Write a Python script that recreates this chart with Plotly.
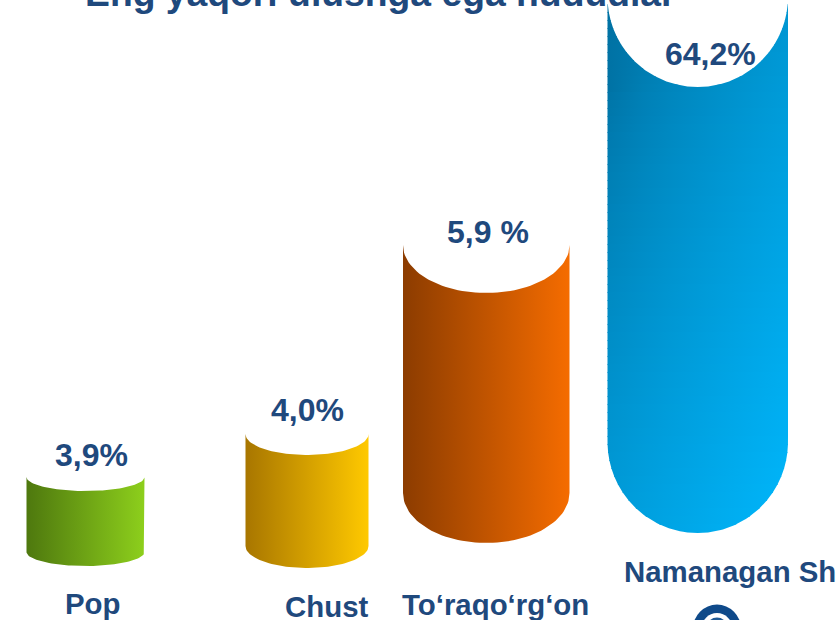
import numpy as np
import plotly.graph_objects as go

# ---- chart content ----
title_text = "Eng yaqori ulushga ega hududlar"
categories = ["Pop", "Chust", "To‘raqo‘rg‘on", "Namanagan Sh"]
shares = [3.9, 4.0, 5.9, 64.2]
share_labels = ["3,9%", "4,0%", "5,9 %", "64,2%"]
# pictogram heights as drawn (not proportional to the shares), in picture units
drawn_heights = [75, 112, 248, 445]

# ---- layout and style ----
BLUE = "#1F497D"
lefts = [26.5, 245.5, 403, 607.5]
rights = [144.5, 368.5, 569.5, 788]
bases = [552, 546, 493, 442]
top_ry = [14, 21, 48, 90]
base_ry = [14, 22, 50, 91]
grad_left = ["#4E780E", "#A87600", "#8C3C00", None]
grad_right = ["#8DCF1C", "#FFC900", "#F56C00", None]
value_xy = [(91, 455), (307, 410), (487.5, 232), (710, 54)]
cat_xy = [(93, 603), (326, 606), (495, 604), (729.5, 571)]


def half_ellipse(x0, x1, yc, ry, n=60, reverse=False):
    th = np.linspace(np.pi, 0, n)
    if reverse:
        th = th[::-1]
    cx, rx = (x0 + x1) / 2, (x1 - x0) / 2
    return cx + rx * np.cos(th), yc + ry * np.sin(th)


def outline(i):
    top = bases[i] - drawn_heights[i]
    xa, ya = half_ellipse(lefts[i], rights[i], top, top_ry[i])
    xb, yb = half_ellipse(lefts[i], rights[i], bases[i], base_ry[i], reverse=True)
    return np.r_[xa, xb, xa[0]], np.r_[ya, yb, ya[0]]


fig = go.Figure()

# three cylinders with plain left-to-right gradients
for i in range(3):
    xs, ys = outline(i)
    fig.add_trace(go.Scatter(
        x=xs, y=ys, mode="lines", line=dict(width=0), fill="toself",
        fillgradient=dict(type="horizontal", start=lefts[i], stop=rights[i],
                          colorscale=[[0, grad_left[i]], [1, grad_right[i]]]),
        hoverinfo="skip", showlegend=False))

# the tallest one has a diagonal gradient: stacked bands, each a horizontal gradient
C0 = np.array([0x00, 0x72, 0xA4])
C1 = np.array([0x00, 0xB6, 0xFB])


def diag(x, y):
    t = 0.5 * (x - lefts[3]) / (rights[3] - lefts[3]) + 0.5 * (y - 90) / 443
    t = np.clip(t, 0, 1) ** 0.72
    c = C0 + (C1 - C0) * t
    return "rgb(%d,%d,%d)" % tuple(c.round())


i = 3
top = bases[i] - drawn_heights[i]
yb_max = bases[i] + base_ry[i]
edges = np.arange(top, yb_max + 8, 8.0)
for y0, y1 in zip(edges[:-1], edges[1:]):
    ya = np.linspace(y0 - 1, y1, 16)
    cx, rx = (lefts[i] + rights[i]) / 2, (rights[i] - lefts[i]) / 2
    lo = np.sqrt(np.clip(1 - ((ya - top) / top_ry[i]) ** 2, 0, 1)) * rx
    lo = np.where(ya < top, rx, lo)
    hi = np.where(ya > bases[i], np.sqrt(np.clip(1 - ((ya - bases[i]) / base_ry[i]) ** 2, 0, 1)) * rx, rx)
    keep = ya <= yb_max
    L_out, R_out = cx - hi[keep], cx + hi[keep]
    L_in, R_in = cx - lo[keep], cx + lo[keep]
    yk = ya[keep]
    if len(yk) < 2:
        continue
    # left part and right part around the white ellipse
    xs = np.r_[L_out, L_in[::-1], [None], R_in, R_out[::-1]]
    ys = np.r_[yk, yk[::-1], [None], yk, yk[::-1]]
    ymid = (y0 + y1) / 2
    stops = np.linspace(0, 1, 6)
    fig.add_trace(go.Scatter(
        x=xs, y=ys, mode="lines", line=dict(width=0), fill="toself",
        fillgradient=dict(type="horizontal", start=lefts[i], stop=rights[i],
                          colorscale=[[float(s), diag(lefts[i] + s * (rights[i] - lefts[i]), ymid)] for s in stops]),
        hoverinfo="skip", showlegend=False))

annotations = []
for (x, y), s in zip(value_xy, share_labels):
    annotations.append(dict(x=x, y=y, text=s, showarrow=False, xanchor="center", yanchor="middle",
                            font=dict(family="Liberation Sans", size=32, color=BLUE, weight="bold")))
for (x, y), s in zip(cat_xy, categories):
    annotations.append(dict(x=x, y=y, text=s, showarrow=False, xanchor="center", yanchor="middle",
                            font=dict(family="Liberation Sans", size=29.4, color=BLUE, weight="bold")))
annotations.append(dict(xref="paper", yref="paper", x=380 / 840, y=1 + 7 / 620, text=title_text,
                        showarrow=False, xanchor="center", yanchor="middle",
                        font=dict(family="Liberation Sans", size=37.3, color=BLUE, weight="bold")))

# round badge cut off at the bottom edge
shapes = []
for r, col in [(24, "#0F4A8A"), (15.5, "#FFFFFF"), (11, "#1F5A96")]:
    shapes.append(dict(type="circle", xref="x", yref="y", x0=717 - r, x1=717 + r,
                       y0=628.6 - r, y1=628.6 + r, fillcolor=col, line=dict(width=0)))

fig.update_layout(
    width=840, height=620, margin=dict(l=0, r=0, t=0, b=0),
    paper_bgcolor="white", plot_bgcolor="white", showlegend=False,
    xaxis=dict(range=[0, 840], visible=False, fixedrange=True),
    yaxis=dict(range=[620, 0], visible=False, fixedrange=True),
    annotations=annotations, shapes=shapes,
)

fig.write_html("out.html", config={"displayModeBar": False},
               post_script="document.body.style.margin='0';document.body.style.overflow='hidden';")
